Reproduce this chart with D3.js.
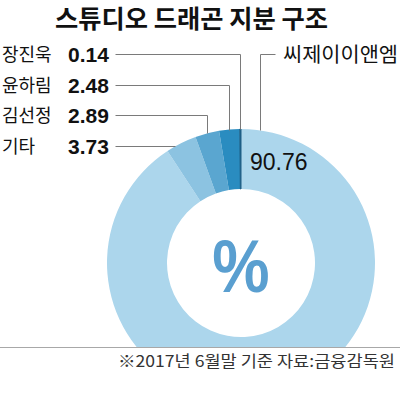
<!DOCTYPE html>
<html>
<head>
<meta charset="utf-8">
<script src="https://cdn.jsdelivr.net/npm/d3@7"></script>
<style>
  html, body { margin: 0; padding: 0; background: #fff; }
  svg { display: block; }
</style>
</head>
<body>
<div id="chart"></div>
<script>
// 스튜디오 드래곤 지분 (%), clockwise from 12 o'clock
const owners = ["씨제이이앤엠", "기타", "김선정", "윤하림", "장진욱"];
const shares = [90.76, 3.73, 2.89, 2.48, 0.14];
const shareLabels = ["90.76", "3.73", "2.89", "2.48", "0.14"];
const colors = ["#acd6ec", "#8cc3e1", "#5aa6d0", "#2a8cc0", "#1d5f86"];

const width = 400, height = 397;
const cx = 241, cy = 263, outerR = 134, innerR = 74;
const clipY = 347;

const svg = d3.select("#chart").append("svg")
  .attr("width", width)
  .attr("height", height);

// title
svg.append("text")
  .attr("x", 55).attr("y", 28)
  .attr("textLength", 273).attr("lengthAdjust", "spacingAndGlyphs")
  .attr("font-family", "'Noto Sans CJK KR', sans-serif")
  .attr("font-weight", 700)
  .attr("font-size", 25)
  .attr("fill", "#111")
  .text("스튜디오 드래곤 지분 구조");

svg.append("clipPath").attr("id", "cut")
  .append("rect").attr("x", 0).attr("y", 0).attr("width", width).attr("height", clipY);

const data = owners.map((name, i) => ({ name, value: shares[i], label: shareLabels[i], color: colors[i] }));

const pie = d3.pie().sort(null).value(d => d.value);
const arcs = pie(data);
const arc = d3.arc().innerRadius(innerR).outerRadius(outerR);

const ring = svg.append("g")
  .attr("clip-path", "url(#cut)")
  .append("g")
  .attr("transform", `translate(${cx},${cy})`);

ring.selectAll("path")
  .data(arcs)
  .enter().append("path")
  .attr("d", arc)
  .attr("fill", d => d.data.color)
  .attr("stroke", d => d.data.value < 1 ? d.data.color : "none")
  .attr("stroke-width", 1);

// % mark in the hole (narrowed to match the condensed face)
ring.append("text")
  .attr("transform", "translate(0,29) scale(0.86,1)")
  .attr("text-anchor", "middle")
  .attr("font-family", "'Liberation Sans', Arial, sans-serif")
  .attr("font-weight", 700)
  .attr("font-size", 75)
  .attr("fill", "#5a9fd0")
  .text("%");

// big share value
ring.append("text")
  .attr("x", 9).attr("y", -93)
  .attr("font-family", "'Liberation Sans', Arial, sans-serif")
  .attr("font-size", 23)
  .attr("fill", "#111")
  .text(arcs[0].data.label);

// bottom rule
svg.append("line")
  .attr("x1", 0).attr("x2", width)
  .attr("y1", clipY + 0.5).attr("y2", clipY + 0.5)
  .attr("stroke", "#a8a8a8").attr("stroke-width", 1);

// small-share labels on the left
const small = arcs.slice(1).reverse(); // 장진욱, 윤하림, 김선정, 기타
const rowY = i => 54 + i * 30.7;
const lineColor = "#7a7a7a";
const leaders = svg.append("g");

small.forEach((d, i) => {
  const y = rowY(i);
  const row = svg.append("g");
  row.append("text")
    .attr("x", 2).attr("y", y + 7)
    .attr("font-family", "'Noto Sans CJK KR', sans-serif")
    .attr("font-size", 18)
    .attr("fill", "#111")
    .text(d.data.name);
  row.append("text")
    .attr("x", 68).attr("y", y + 8)
    .attr("font-family", "'Liberation Sans', Arial, sans-serif")
    .attr("font-weight", 700)
    .attr("font-size", 21)
    .attr("fill", "#111")
    .text(d.data.label);

  const mid = (d.startAngle + d.endAngle) / 2;
  const ax = cx + outerR * Math.sin(mid);
  const ay = cy - outerR * Math.cos(mid);
  let pts;
  if (ay - y < 6) {
    // slice edge sits at the row: run straight to the ring
    const ex = cx - Math.sqrt(outerR * outerR - (cy - y) * (cy - y));
    pts = [[115, y], [ex, y]];
  } else {
    pts = [[115, y], [ax, y], [ax, ay]];
  }
  leaders.append("path")
    .attr("d", d3.line()(pts.map(p => [Math.round(p[0]) + 0.5, Math.round(p[1]) + 0.5])))
    .attr("fill", "none")
    .attr("stroke", lineColor)
    .attr("stroke-width", 1);
});

// label for the big share, on the right
{
  const d = arcs[0];
  const y = rowY(0);
  const a = d.startAngle + 0.142;
  const ax = cx + outerR * Math.sin(a);
  const ay = cy - outerR * Math.cos(a);
  leaders.append("path")
    .attr("d", d3.line()([[275, y], [ax, y], [ax, ay]].map(p => [Math.round(p[0]) + 0.5, Math.round(p[1]) + 0.5])))
    .attr("fill", "none")
    .attr("stroke", lineColor)
    .attr("stroke-width", 1);
  svg.append("text")
    .attr("x", 283).attr("y", y + 8)
    .attr("textLength", 115).attr("lengthAdjust", "spacingAndGlyphs")
    .attr("font-family", "'Noto Sans CJK KR', sans-serif")
    .attr("font-size", 20)
    .attr("fill", "#111")
    .text(d.data.name);
}

// footnote
svg.append("text")
  .attr("x", 395).attr("y", 367)
  .attr("text-anchor", "end")
  .attr("textLength", 277).attr("lengthAdjust", "spacingAndGlyphs")
  .attr("font-family", "'Noto Sans CJK KR', sans-serif")
  .attr("font-size", 16)
  .attr("fill", "#333")
  .text("※2017년 6월말 기준 자료:금융감독원");
</script>
</body>
</html>
